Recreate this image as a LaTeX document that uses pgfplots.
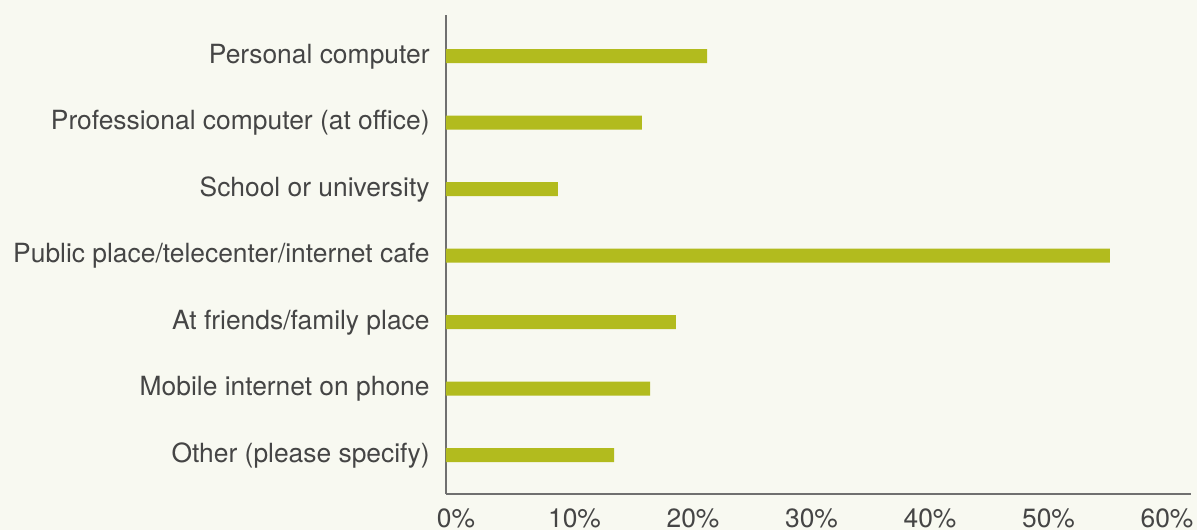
\documentclass[border=0pt]{standalone}
\usepackage{fontspec}
\setmainfont{TeX Gyre Heros}
\usepackage{pgfplots}
\pgfplotsset{compat=1.18}
\usetikzlibrary{backgrounds}
\definecolor{bg}{HTML}{F8F9F1}
\definecolor{barc}{HTML}{B2BB1E}
\definecolor{txt}{HTML}{454545}
\definecolor{axl}{HTML}{707070}
\begin{document}
\begin{tikzpicture}
\begin{axis}[name=ax, scale only axis, width=372.5pt, height=239.5pt,
  xmin=0, xmax=62.87, ymin=-0.586, ymax=6.617,
  xbar, bar width=7pt,
  axis lines*=left, axis line style={draw=axl, line width=0.6pt},
  xtick={0,10,...,60}, xticklabels={0\%,10\%,20\%,30\%,40\%,50\%,60\%},
  ytick={0,...,6},
  yticklabels={Other (please specify),Mobile internet on phone,At friends/family place,Public place/telecenter/internet cafe,School or university,Professional computer (at office),Personal computer},
  major tick length=0pt,
  tick label style={font=\fontsize{13.2}{15}\selectfont, text=txt},
  xticklabel style={anchor=base, inner sep=0pt, yshift=-16.8pt, xshift=5pt},
  yticklabel style={anchor=base east, inner sep=0pt, xshift=-8pt, yshift=-3.5pt},
  clip=false]
\addplot[fill=barc, draw=none] coordinates {(14.18,0) (17.22,1) (19.41,2) (56.03,3) (9.45,4) (16.54,5) (22.03,6)};
\end{axis}
\begin{pgfonlayer}{background}
\fill[bg] ([xshift=-223pt,yshift=-18pt]ax.south west) rectangle ([xshift=3pt,yshift=7.5pt]ax.north east);
\end{pgfonlayer}
\pgfresetboundingbox
\path ([xshift=-223pt,yshift=-18pt]ax.south west) rectangle ([xshift=3pt,yshift=7.5pt]ax.north east);
\end{tikzpicture}
\end{document}
